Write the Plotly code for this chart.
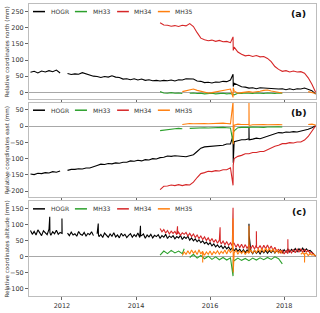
import plotly.graph_objects as go

# ---------------- data ----------------
STEP_NE = 0.1    # sampling interval of typed north / east values, years
STEP_U = 0.05    # sampling interval of typed altitude values (HOGR, MH34, MH35)
STEP_U33 = 0.1   # sampling interval of MH33 altitude values

HOGR_T0 = 2011.15
HOGR_N = [62, 65, 60, 66, 63, 67, 64, 69, 60,
          None,
          58, 55, 57, 56, 61, 57, 55, 50,
          49, 46, 49, 47, 51, 47, 46, 41, 42, 39,
          42, 38, 41, 37, 39, 36, 37, 35, 37, 36,
          38, 35, 39, 38, 42, 42, 41, 35, 34, 30,
          31, 29, 32, 31, 34, 33, 38, 28, 22, 17,
          16, 13, 14, 11, 14, 13, 14, 11, 12, 10,
          11, 8, 11, 8, 11, 10, 13, 9, 5, -6]
HOGR_E = [-147, -149, -145, -146, -143, -144, -140, -142, -138,
          None,
          -136, -133, -133, -131, -132, -129, -129, -126,
          -121, -117, -118, -115, -116, -113, -114, -111, -111, -107,
          -108, -105, -107, -103, -104, -100, -101, -97, -96, -92,
          -93, -91, -92, -91, -94, -91, -88, -78, -68, -64,
          -63, -61, -62, -59, -59, -55, -55, -48, -44, -42,
          -42, -39, -40, -37, -39, -35, -32, -26, -22, -20,
          -21, -18, -19, -17, -18, -15, -14, -10, -5, 1]
HOGR_U = [82, 70, 79, 68, 84, 73, 66, 81, 75, 69, 86, 67, 78, 72, 83, 70, 76,
          73, None, None,
          74, 66, 77, 68, 72, 64, 79, 70, 67, 76, 65, 73, 69, 78, 66,
          None,
          72, 63, 70, 60, 74, 66, 61, 71, 64, 75, 62, 68, 59, 73, 65, 70, 60,
          67, 72, 61, 69, 63, 74, 60, 66, 71, 58, 68, 62, 70, 59, 67, 63,
          69, 58, 66, 61, 70, 57, 65, 60,
          66, 56, 63, 59, 67, 54, 62, 57, 64, 52,
          59, 50, 56, 47, 53, 44, 50, 41, 46, 38,
          44, 34, 40, 31, 37, 29, 35, 26, 33, 25,
          31, 22, 28, 19, 26, 17, 24, 14, 22, 13,
          21, 12, 19, 10, 20, 11, 18, 9, 19, 12,
          20, 11, 19, 13, 21, 12, 20, 14, 22, 13,
          22, 14, 24, 15, 23, 17, 26, 16, 25, 18, 27, 17,
          25, 18, 20, 12, 8, 2]
HOGR_SPK_N = ([2016.62, 2016.625], [56, 18])
HOGR_SPK_E = ([2016.62, 2016.625, 2017.05, 2017.055], [-30, -113, -3, -42])
HOGR_SPK_U = ([2011.67, 2011.675, 2012.0, 2012.005, 2012.98, 2012.985,
               2014.12, 2014.125, 2017.05, 2017.055],
              [125, 75, 119, 72, 104, 68, 97, 65, 103, 67])

MH33_T0 = 2014.65
MH33_N = [2, -2, -3, -1, -3, -2, -4, None, -3, -2,
          -4, -3, -5, -4, -3, -5, -4, -3, -5, -4,
          -8, -3, -4, -2, -3, -4, -2, -3, -4, -2,
          -3, -4, -2, -3]
MH33_E = [-14, -12, -10, -9, -8, -7, -8, None, -7, -6,
          -7, -6, -5, -6, -5, -6, -5, -4, -5, -6,
          -15, -5, -4, -5, -4, -3, -4, -3, -4, -3,
          -2, -3, -2, -3]
MH33_U = [5, 18, 10, 20, 12, 18, 10, None, -2, 8,
          -4, 4, -6, 2, -8, 0, -9, -2, -10, -3,
          -12, -4, -11, -5, -12, -4, -10, -3, -9, -2,
          -8, 0, -6, -22]
MH33_SPK_N = ([], [])
MH33_SPK_E = ([2016.62, 2016.625], [-51, -20])
MH33_SPK_U = ([2015.3, 2016.62, 2016.625], [25, -60, -8])

MH34_T0 = 2014.65
MH34_N = [216, 209, 208, 205, 207, 204, 208, 206, 213, 204,
          185, 168, 163, 160, 162, 158, 161, 157, 158, 154,
          140, 125, 118, 113, 115, 111, 114, 110, 111, 105,
          95, 80, 71, 65, 67, 63, 66, 63, 64, 59,
          45, 25, 0]
MH34_E = [-195, -185, -184, -181, -183, -180, -183, -180, -181, -172,
          -158, -146, -143, -139, -140, -137, -138, -134, -134, -128,
          -100, -93, -90, -85, -85, -81, -81, -78, -78, -72,
          -67, -62, -59, -54, -54, -51, -52, -49, -49, -43,
          -32, -15, 1]
MH34_U = [88, 78, 85, 74, 82, 71, 80, 73,
          79, 69, 77, 67, 75, 70, 76, 65, 73, 63,
          71, 60, 68, 57, 65, 54, 62, 51, 59, 48,
          57, 45, 54, 42, 52, 40, 49, 38, 47, 36,
          44, 33, 42, 30, 40, 28, 39, 27, 38, 26,
          37, 25, 36, 24, 38, 26, 35, 23, 36, 25,
          37, 24, 34, 20, 30, 16, 24, 11, 20, 9,
          19, 10, 21, 12, 23, 13, 24, 15, 25, 14,
          23, 15, 20, 11, 14, 6, 3]
MH34_SPK_N = ([2016.62, 2016.625], [172, 130])
MH34_SPK_E = ([2016.62, 2016.625], [-182, -120])
MH34_SPK_U = ([2015.12, 2015.125, 2016.27, 2016.275, 2016.62, 2016.625,
               2017.25, 2017.255, 2018.1, 2018.105],
              [95, 72, 92, 48, 153, 40, 80, 30, 55, 14])

MH35_T0 = 2015.25
MH35_N = [2, 5, 8, 10, 6, 3, 0, -2, -1, 1,
          3, 5, 8, 10, 4, -3, -1, 0, 2, 0,
          1, 3, 6, 7, 4, 2, 0, -2, None, None,
          None, None, None, None, 2, 0, -4]
MH35_E = [5, 7, 8, 7, 8, 7, 8, 7, 8, 7,
          8, 9, 8, 7, 3, 6, 5, 4, 5, 4,
          5, 4, 5, 4, 5, 4, 5, 4, None, None,
          None, None, None, None, 5, 6, 3]
MH35_U = [4, 16, 7, 19, 9, 21, 11, 18, 7, 22,
          9, 17, 5, 15, 8, 18, 6, 16, 10, 19,
          8, 17, 11, 21, 9, 23, 13, 20, 12, 21,
          8, 18, 10, 19, 7, 17, 11, 21, 12, 20,
          13, 24, 15, 26, 14, 27, 17, 25, 16, 24,
          13, 22, 12, 19, 10, None, None, None, None, None,
          None, None, None, None, 8, 13, 6, 12, 4, 10,
          5, 8, 2]
MH35_SPK_N = ([2016.62, 2016.625], [-16, 14])
MH35_SPK_E = ([2016.62, 2016.625, 2017.05, 2017.055], [75, -56, 75, 2])
MH35_SPK_U = ([2015.8, 2015.805, 2016.62, 2016.625, 2017.05, 2017.055,
               2018.55, 2018.555],
              [-18, 15, 119, -49, 97, 12, -18, 10])

STATIONS = ["HOGR", "MH33", "MH34", "MH35"]
COLORS = {"HOGR": "#000000", "MH33": "#2ca02c", "MH34": "#d62728", "MH35": "#ff7f0e"}
PANEL_LABELS = ["(a)", "(b)", "(c)"]
Y_TITLES = ["Relative coordinates north (mm)",
            "Relative coordinates east (mm)",
            "Relative coordinates altitude (mm)"]
X_TICKS = [2012, 2014, 2016, 2018]
X_TICKTEXT = ["2012", "2014", "2016", "2018"]
Y_TICKS = [[0, 50, 100, 150, 200, 250],
           [-200, -150, -100, -50, 0, 50],
           [-100, -50, 0, 50, 100, 150]]
Y_RANGES = [[-20, 274], [-219, 72], [-122, 173]]
X_RANGE = [2011.11, 2018.86]

DATA = {
    "HOGR": (HOGR_T0, [HOGR_N, HOGR_E, HOGR_U], [HOGR_SPK_N, HOGR_SPK_E, HOGR_SPK_U],
             [STEP_NE, STEP_NE, STEP_U]),
    "MH33": (MH33_T0, [MH33_N, MH33_E, MH33_U], [MH33_SPK_N, MH33_SPK_E, MH33_SPK_U],
             [STEP_NE, STEP_NE, STEP_U33]),
    "MH34": (MH34_T0, [MH34_N, MH34_E, MH34_U], [MH34_SPK_N, MH34_SPK_E, MH34_SPK_U],
             [STEP_NE, STEP_NE, STEP_U]),
    "MH35": (MH35_T0, [MH35_N, MH35_E, MH35_U], [MH35_SPK_N, MH35_SPK_E, MH35_SPK_U],
             [STEP_NE, STEP_NE, STEP_U]),
}


def build(t0, step, vals, spk):
    t = [round(t0 + step * i, 4) for i in range(len(vals))]
    pts = list(zip(t, vals)) + list(zip(spk[0], spk[1]))
    pts.sort(key=lambda p: p[0])
    return [p[0] for p in pts], [p[1] for p in pts]


# ---------------- figure ----------------
FONT = "DejaVu Sans"
TXT = "#333333"
fig = go.Figure()

domains = [[0.6756, 1.0], [0.3378, 0.6622], [0.0, 0.3244]]
for p in range(3):
    xa = "x" if p == 0 else f"x{p+1}"
    ya = "y" if p == 0 else f"y{p+1}"
    for st in STATIONS:
        t0, comps, spks, steps = DATA[st]
        xs, ys = build(t0, steps[p], comps[p], spks[p])
        fig.add_trace(go.Scatter(x=xs, y=ys, mode="lines", name=st,
                                 line=dict(color=COLORS[st], width=1.1),
                                 xaxis=xa, yaxis=ya, showlegend=False,
                                 connectgaps=False))

layout = dict(width=320, height=313,
              margin=dict(l=29, r=4, t=3, b=11),
              paper_bgcolor="white", plot_bgcolor="white",
              font=dict(family=FONT, size=6, color=TXT),
              showlegend=False)

for p in range(3):
    sx = "" if p == 0 else str(p + 1)
    layout["xaxis" + sx] = dict(
        domain=[0, 1], anchor="y" + sx, range=X_RANGE,
        tickvals=X_TICKS, ticktext=X_TICKTEXT, showticklabels=(p == 2),
        ticks="outside", ticklen=3, tickwidth=1, tickcolor="#666",
        showline=True, linecolor="#bdbdbd", linewidth=1, mirror=True,
        showgrid=False, zeroline=False,
        tickfont=dict(size=6.5, color=TXT, family=FONT),
        matches=None if p == 0 else "x")
    layout["yaxis" + sx] = dict(
        domain=domains[p], anchor="x" + sx, range=Y_RANGES[p],
        tickvals=Y_TICKS[p], ticks="outside", ticklen=3, tickwidth=1,
        tickcolor="#666", showline=True, linecolor="#bdbdbd", linewidth=1,
        mirror=True, showgrid=False, zeroline=True, zerolinecolor="#a8a8a8",
        zerolinewidth=1, tickfont=dict(size=6.5, color=TXT, family=FONT))

fig.update_layout(**layout)

# legends, panel labels and y titles
LEG_H = [(0.0139, 0.0557, 0.0697), (0.160, 0.202, 0.216),
         (0.307, 0.348, 0.359), (0.449, 0.491, 0.502)]
for p in range(3):
    sx = "" if p == 0 else str(p + 1)
    xd, yd = "x" + sx + " domain", "y" + sx + " domain"
    for st, (a, b, tx) in zip(STATIONS, LEG_H):
        fig.add_shape(type="line", xref=xd, yref=yd, x0=a, x1=b, y0=0.92, y1=0.92,
                      line=dict(color=COLORS[st], width=1.5))
        fig.add_annotation(xref=xd, yref=yd, x=tx, y=0.92, text=st, showarrow=False,
                           xanchor="left", yanchor="middle",
                           font=dict(size=6, color=TXT, family=FONT))
    fig.add_annotation(xref=xd, yref=yd, x=0.972, y=0.897, text="<b>" + PANEL_LABELS[p] + "</b>",
                       showarrow=False, xanchor="right", yanchor="middle",
                       font=dict(size=9.5, color="#111", family=FONT))
    fig.add_annotation(xref="paper", yref=yd, x=-0.0767, y=0.5, text=Y_TITLES[p],
                       textangle=-90, showarrow=False, xanchor="center", yanchor="middle",
                       font=dict(size=5.6, color=TXT, family=FONT))

fig.write_html("out.html",
               config={"displayModeBar": False},
               post_script="document.body.style.margin='0';document.body.style.overflow='hidden';")
